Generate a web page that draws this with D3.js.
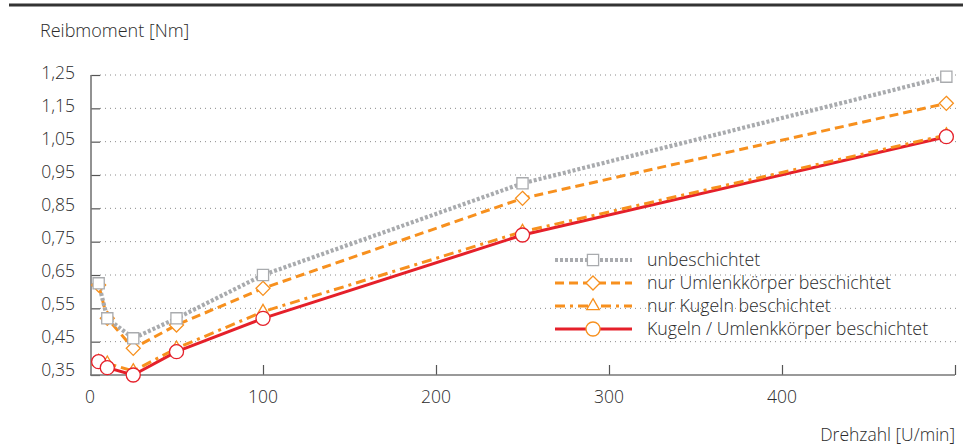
<!DOCTYPE html>
<html>
<head>
<meta charset="utf-8">
<script src="https://cdn.jsdelivr.net/npm/d3@7"></script>
<style>
  html, body { margin: 0; padding: 0; background: #fff; }
  svg { display: block; }
  text { font-family: "Open Sans", "Liberation Sans", sans-serif; font-weight: 300; fill: #2b2b2b; }
</style>
</head>
<body>
<svg id="chart" width="970" height="447"></svg>
<script>
// Reibmoment in Abhängigkeit von der Drehzahl
const drehzahl = [5, 10, 25, 50, 100, 250, 495];
const unbeschichtet = [0.625, 0.52, 0.46, 0.52, 0.65, 0.925, 1.245];
const nurUmlenkkoerper = [0.62, 0.52, 0.43, 0.50, 0.61, 0.88, 1.165];
const nurKugeln = [0.39, 0.385, 0.362, 0.43, 0.54, 0.78, 1.07];
const kugelnUmlenkkoerper = [0.39, 0.372, 0.35, 0.42, 0.52, 0.77, 1.065];

const seriesNames = [
  "unbeschichtet",
  "nur Umlenkkörper beschichtet",
  "nur Kugeln beschichtet",
  "Kugeln / Umlenkkörper beschichtet"
];
const yTicks = [0.35, 0.45, 0.55, 0.65, 0.75, 0.85, 0.95, 1.05, 1.15, 1.25];
const xTicks = [0, 100, 200, 300, 400];
const yTitle = "Reibmoment [Nm]";
const xTitle = "Drehzahl [U/min]";

const series = [
  { name: seriesNames[0], values: unbeschichtet, color: "#a9abae", width: 4.2, dash: "3,2", marker: "square" },
  { name: seriesNames[1], values: nurUmlenkkoerper, color: "#f7901e", width: 3, dash: "9,5", marker: "diamond" },
  { name: seriesNames[2], values: nurKugeln, color: "#f7901e", width: 3, dash: "10,5,3,5", marker: "triangle" },
  { name: seriesNames[3], values: kugelnUmlenkkoerper, color: "#e5202a", width: 3, dash: null, marker: "circle", markerColor: "#e5202a" }
];

const svg = d3.select("#chart");
const plotLeft = 91, plotRight = 955, plotTop = 75, plotBottom = 375;

const x = d3.scaleLinear().domain([0, 500]).range([plotLeft - 1, plotRight]);
const y = d3.scaleLinear().domain([0.35, 1.25]).range([plotBottom, plotTop]);
const fmt = d3.formatLocale({ decimal: ",", thousands: ".", grouping: [3], currency: ["", " €"] }).format(".2f");

// Top rule
svg.append("line")
  .attr("x1", 9).attr("x2", 963).attr("y1", 5).attr("y2", 5)
  .attr("stroke", "#333").attr("stroke-width", 3);

// Horizontal dotted grid
svg.append("g").selectAll("line")
  .data(yTicks.slice(1))
  .join("line")
  .attr("x1", plotLeft + 9).attr("x2", plotRight + 3)
  .attr("y1", d => y(d)).attr("y2", d => y(d))
  .attr("stroke", "#8a8a8a").attr("stroke-width", 1)
  .attr("stroke-dasharray", "1,4");

// Y axis
const yAxis = d3.axisRight(y).tickValues(yTicks).tickSize(9).tickFormat("");
const gy = svg.append("g").attr("transform", `translate(${plotLeft},0)`).call(yAxis);
gy.select(".domain").remove();
gy.selectAll(".tick line").attr("stroke", "#555").attr("stroke-width", 1.2);
svg.append("line")
  .attr("x1", plotLeft).attr("x2", plotLeft).attr("y1", y(1.25)).attr("y2", plotBottom)
  .attr("stroke", "#777").attr("stroke-width", 1.6);
svg.append("g").selectAll("text")
  .data(yTicks)
  .join("text")
  .attr("x", 75).attr("y", d => y(d) - 2 - (1.25 - d) * 4)
  .attr("dy", "0.35em")
  .attr("text-anchor", "end")
  .style("font-size", "17.5px")
  .text(d => fmt(d));

// X axis
const xAxis = d3.axisTop(x).tickValues(xTicks.concat([500])).tickSize(10).tickFormat("");
const gx = svg.append("g").attr("transform", `translate(0,${plotBottom})`).call(xAxis);
gx.select(".domain").remove();
gx.selectAll(".tick line").attr("stroke", "#555").attr("stroke-width", 1.2);
gx.selectAll(".tick").filter(d => d === 0).remove();
svg.append("line")
  .attr("x1", plotLeft - 1).attr("x2", x(500)).attr("y1", plotBottom).attr("y2", plotBottom)
  .attr("stroke", "#777").attr("stroke-width", 1.6);
svg.append("g").selectAll("text")
  .data(xTicks)
  .join("text")
  .attr("x", d => x(d)).attr("y", 397)
  .attr("dy", "0.35em")
  .attr("text-anchor", "middle")
  .style("font-size", "17.5px")
  .text(d => d);

svg.append("text").attr("x", 40).attr("y", 37).style("font-size", "18px").text(yTitle);
svg.append("text").attr("x", 955).attr("y", 441).attr("text-anchor", "end").style("font-size", "17.5px").text(xTitle);

// Marker shapes
const symbolFor = {
  square: d3.symbol().type(d3.symbolSquare).size(125),
  diamond: d3.symbol().type(d3.symbolDiamond2).size(125),
  triangle: d3.symbol().type(d3.symbolTriangle2).size(115),
  circle: d3.symbol().type(d3.symbolCircle).size(155)
};

const line = d3.line().x(d => x(d[0])).y(d => y(d[1]));

// Lines (back to front)
const drawOrder = [3, 2, 1, 0];
drawOrder.forEach(i => {
  const s = series[i];
  svg.append("path")
    .datum(drehzahl.map((d, k) => [d, s.values[k]]))
    .attr("d", line)
    .attr("fill", "none")
    .attr("stroke", s.color)
    .attr("stroke-width", s.width)
    .attr("stroke-dasharray", s.dash)
    .attr("stroke-linejoin", "round");
});

// Markers
const markerOrder = [2, 3, 1, 0];
markerOrder.forEach(i => {
  const s = series[i];
  svg.append("g").selectAll("path")
    .data(drehzahl.map((d, k) => [d, s.values[k]]))
    .join("path")
    .attr("transform", d => `translate(${x(d[0])},${y(d[1])})`)
    .attr("d", symbolFor[s.marker]())
    .attr("fill", "#fff")
    .attr("stroke", s.markerColor || s.color)
    .attr("stroke-width", 1.3);
});

// Legend
const legendRows = [260, 283, 306, 329];
const lg = svg.append("g");
series.forEach((s, i) => {
  const ly = legendRows[i];
  lg.append("line")
    .attr("x1", 555).attr("x2", 632).attr("y1", ly).attr("y2", ly)
    .attr("stroke", s.color)
    .attr("stroke-width", s.width)
    .attr("stroke-dasharray", s.dash);
  lg.append("path")
    .attr("transform", `translate(593,${ly})`)
    .attr("d", symbolFor[s.marker]())
    .attr("fill", "#fff")
    .attr("stroke", s.marker === "circle" ? "#f7901e" : s.color)
    .attr("stroke-width", 1.3);
  lg.append("text")
    .attr("x", 647).attr("y", ly)
    .attr("dy", "0.35em")
    .style("font-size", "17.8px")
    .text(s.name);
});
</script>
</body>
</html>
